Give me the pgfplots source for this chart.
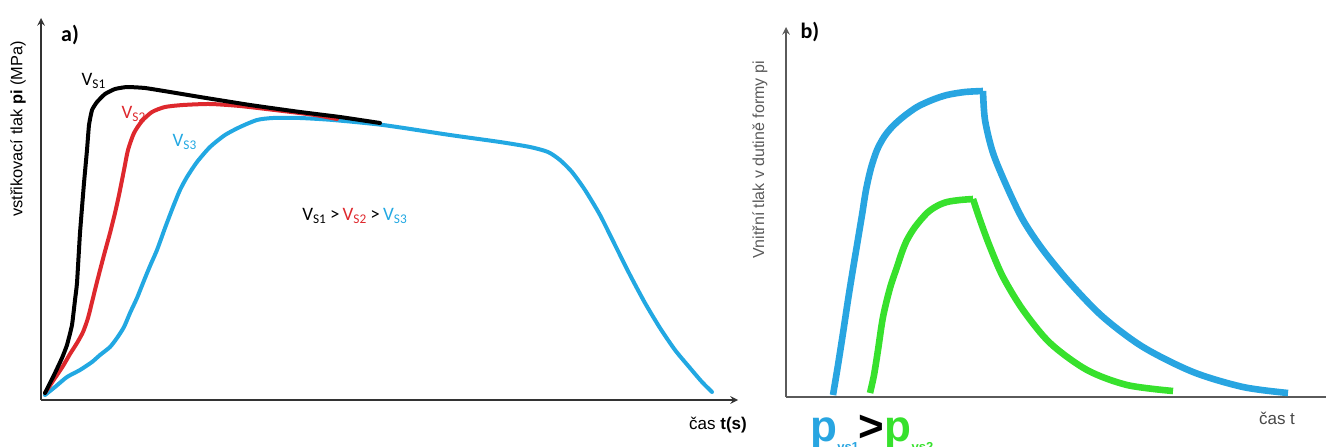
\documentclass[border=0pt]{standalone}
\usepackage{pgfplots}
\pgfplotsset{compat=1.18}
\usepackage{fontspec}
\setmainfont{Carlito}
\newfontfamily\arial{Liberation Sans}
\definecolor{cblue}{RGB}{34,168,226}
\definecolor{cblueb}{RGB}{40,165,225}
\definecolor{cred}{RGB}{222,40,45}
\definecolor{cgreen}{RGB}{55,225,45}
\definecolor{axgray}{RGB}{90,90,90}
\begin{document}
\begin{tikzpicture}
\path[use as bounding box] (0,0) rectangle (663pt,223pt);
% ---------- panel a ----------
\begin{axis}[
  at={(20.5pt,23pt)}, anchor=south west,
  scale only axis, width=348.5pt, height=191pt,
  xmin=41, xmax=738, ymin=46, ymax=428,
  axis lines=left, ticks=none, clip=false,
  axis line style={line width=0.7pt, black!80},
  y filter/.expression={446-y},
  every axis plot/.append style={line width=2pt, line join=round, line cap=round, smooth, tension=0.4}
]
\addplot[cblue] coordinates {(45,395)(55,387)(67,377)(80,370)(92,362)(100,355)(110,347)(117,338)(124,327)(130,313)(137,298)(143,283)(150,266)(157,250)(165,228)(173,207)(180,190)(187,177)(197,162)(210,147)(225,135)(240,127)(257,120)(273,118)(300,118)(333,120)(383,125)(450,135)(500,142)(530,147)(548,152)(560,160)(572,172)(585,190)(600,215)(615,245)(630,275)(645,303)(660,328)(675,350)(690,368)(702,382)(712,392)};
\addplot[cred] coordinates {(45,393)(55,378)(63,366)(70,354)(77,343)(83,332)(88,318)(93,298)(98,278)(104,255)(110,233)(115,213)(119,195)(124,170)(128,150)(134,133)(142,121)(152,112)(165,107)(183,105)(210,104)(240,106)(283,111)(315,115)(337,119)};
\addplot[black, tension=0.25] coordinates {(45,393)(50,383)(55,373)(62,358)(67,345)(72,325)(75,300)(77,283)(80,233)(84,183)(87,150)(89,125)(92,110)(97,102)(105,94)(115,89)(127,87)(145,88)(170,92)(200,97)(250,105)(300,112)(340,117)(380,123)};
\end{axis}
% ---------- panel b ----------
\begin{axis}[
  at={(393pt,24.5pt)}, anchor=south west,
  scale only axis, width=270pt, height=185pt,
  xmin=786, xmax=1326, ymin=49, ymax=419,
  axis lines=left, ticks=none, clip=false,
  axis line style={line width=0.7pt, axgray},
  x axis line style={-},
  y filter/.expression={446-y},
  every axis plot/.append style={line width=3.3pt, line join=round, smooth, tension=0.5}
]
\addplot[cblueb] coordinates {(833,395)(838,365)(843,333)(848,300)(852,275)(857,245)(862,215)(866,190)(871,168)(877,150)(884,137)(892,127)(903,117)(917,107)(932,100)(947,95)(965,92)(983,91)};
\addplot[cblueb] coordinates {(983,91)(985,120)(993,153)(1007,187)(1023,220)(1043,250)(1070,283)(1103,317)(1143,347)(1193,372)(1243,387)(1288,393)};
\addplot[cgreen] coordinates {(870,393)(874,375)(878,350)(883,317)(890,288)(897,267)(902,252)(907,240)(915,227)(927,213)(937,206)(947,202)(960,200)(973,199)};
\addplot[cgreen] coordinates {(973,199)(980,220)(990,247)(1003,277)(1023,310)(1050,343)(1087,370)(1127,385)(1173,391)};
\end{axis}
% ---------- texts ----------
\node[font=\fontsize{11}{12}\selectfont\bfseries] at (35pt,205.5pt) {a)};
\node[font=\arial\fontsize{8.2}{10}\selectfont, rotate=90] at (9pt,158.5pt) {vstřikovací tlak \textbf{pi} (MPa)};
\node[font=\arial\fontsize{8.5}{10}\selectfont] at (359pt,10.5pt) {čas \textbf{t(s)}};
\node[font=\fontsize{9.5}{10}\selectfont] at (47pt,182.5pt) {V\textsubscript{S1}};
\node[font=\fontsize{9.5}{10}\selectfont, text=cred] at (67pt,166pt) {V\textsubscript{S2}};
\node[font=\fontsize{9.5}{10}\selectfont, text=cblue] at (92.5pt,152pt) {V\textsubscript{S3}};
\node[font=\fontsize{9.5}{10}\selectfont] at (177.5pt,115pt) {V\textsubscript{S1}\,\textgreater\,\textcolor{cred}{V\textsubscript{S2}}\,\textgreater\,\textcolor{cblue}{V\textsubscript{S3}}};
\node[font=\fontsize{11}{12}\selectfont\bfseries] at (405pt,207pt) {b)};
\node[font=\arial\fontsize{8}{10}\selectfont, rotate=90, text=axgray] at (380pt,143pt) {Vnitřní tlak v dutině formy pi};
\node[font=\arial\fontsize{8.5}{10}\selectfont, text=axgray!80!black] at (638.5pt,14pt) {čas t};
\node[font=\arial\fontsize{22}{24}\selectfont\bfseries, anchor=base west, inner sep=0pt] at (405pt,2.5pt) {\textcolor{cblueb}{p\raisebox{-5pt}{\fontsize{6.5}{7}\selectfont vs1}}\textgreater\textcolor{cgreen}{p\raisebox{-5pt}{\fontsize{6.5}{7}\selectfont vs2}}};
\end{tikzpicture}
\end{document}
